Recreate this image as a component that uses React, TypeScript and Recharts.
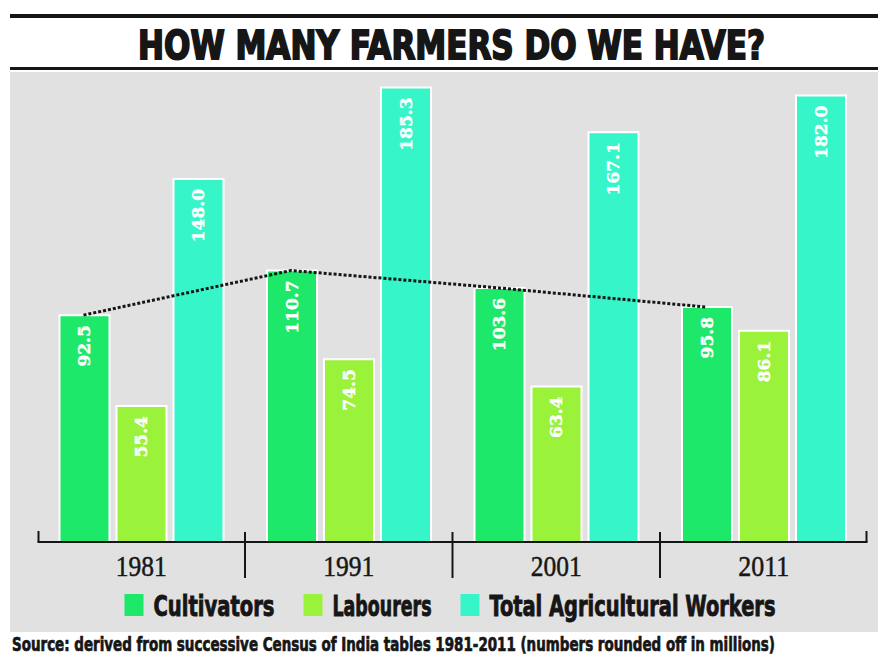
import React from "react";
import { ComposedChart, Bar, Line, XAxis, YAxis, Legend, LabelList } from "recharts";

const years = ["1981", "1991", "2001", "2011"];
const cultivators = [92.5, 110.7, 103.6, 95.8];
const labourers = [55.4, 74.5, 63.4, 86.1];
const totalWorkers = [148.0, 185.3, 167.1, 182.0];

const seriesKeys = ["cultivators", "labourers", "total"];
const seriesNames = ["Cultivators", "Labourers", "Total Agricultural Workers"];
const seriesColors = ["#1de86a", "#9bf23b", "#36f5c9"];

const data = years.map((year, i) => ({
  year,
  idx: i,
  cultivators: cultivators[i],
  labourers: labourers[i],
  total: totalWorkers[i],
}));

const W = 878;
const H = 659;
const MARGIN = { top: 76, right: 10.5, bottom: 30, left: 37.5 };
const LEGEND_H = 40;
const BAND = (W - MARGIN.left - MARGIN.right) / years.length;
const BAR = 50;
const GAP = 7;
// where the cultivators bar sits inside its category, so the dotted line hits its top
const groupOffset = Math.floor((BAND - (3 * BAR + 2 * GAP)) / 2);
const lineShift = (groupOffset + BAR / 2) / BAND;

const INK = "#161616";

const ValueLabel = (props: any) => {
  const x = Number(props.x);
  const y = Number(props.y);
  const w = Number(props.width);
  const cx = x + w / 2;
  const ty = y + 10;
  return (
    <text
      x={cx}
      y={ty}
      transform={`rotate(-90 ${cx} ${ty})`}
      textAnchor="end"
      dominantBaseline="central"
      fill="#ffffff"
      stroke="#ffffff"
      strokeWidth={0.4}
      fontFamily="'DejaVu Serif', serif"
      fontWeight="bold"
      fontSize={17}
    >
      {Number(props.value).toFixed(1)}
    </text>
  );
};

const YearTick = (props: any) => {
  const { x, y, payload } = props;
  const i = payload.index;
  const half = BAND / 2;
  return (
    <g>
      <text
        x={x}
        y={y + 34}
        textAnchor="middle"
        fill={INK}
        stroke={INK}
        strokeWidth={0.5}
        fontFamily="'Liberation Serif', serif"
        fontSize={29}
        textLength={51}
        lengthAdjust="spacingAndGlyphs"
      >
        {payload.value}
      </text>
      {i < years.length - 1 && (
        <line x1={x + half} x2={x + half} y1={y - 10} y2={y + 36} stroke={INK} strokeWidth={2} />
      )}
      {i === 0 && <line x1={x - half + 1} x2={x - half + 1} y1={y - 11} y2={y} stroke={INK} strokeWidth={2} />}
      {i === years.length - 1 && (
        <line x1={x + half - 1} x2={x + half - 1} y1={y - 11} y2={y} stroke={INK} strokeWidth={2} />
      )}
    </g>
  );
};

const LegendContent = () => {
  const charW = 11;
  const sq = 19;
  const sqGap = 10;
  const itemGap = 29;
  const widths = seriesNames.map((n) => sq + sqGap + n.length * charW);
  const total = widths.reduce((a, b) => a + b, 0) + itemGap * (seriesNames.length - 1);
  let x = 450 - total / 2;
  return (
    <svg width={W} height={LEGEND_H} style={{ display: "block" }}>
      {seriesNames.map((name, i) => {
        const x0 = x;
        x += widths[i] + itemGap;
        return (
          <g key={name}>
            <rect x={x0} y={5} width={sq} height={22} fill={seriesColors[i]} />
            <text
              x={x0 + sq + sqGap}
              y={27}
              fill={INK}
              stroke={INK}
              strokeWidth={0.9}
              fontFamily="'DejaVu Sans Condensed', 'DejaVu Sans', sans-serif"
              fontWeight="bold"
              fontSize={29}
              textLength={name.length * charW}
              lengthAdjust="spacingAndGlyphs"
            >
              {name}
            </text>
          </g>
        );
      })}
    </svg>
  );
};

export default function App() {
  return (
    <div
      style={{
        position: "absolute",
        left: 0,
        top: 0,
        width: W,
        height: H,
        background: "#ffffff",
        overflow: "hidden",
      }}
    >
      <svg style={{ position: "absolute", left: 0, top: 0 }} width={W} height={H}>
        <rect x={10} y={14} width={W - 10} height={4} fill={INK} />
        <rect x={10} y={67} width={W - 10} height={3} fill={INK} />
        <rect x={10} y={72} width={W - 10} height={560} fill="#e1e1e1" />
      </svg>

      <div style={{ position: "absolute", left: 0, top: 0 }}>
        <ComposedChart width={W} height={H} data={data} margin={MARGIN} barGap={GAP}>
          <XAxis
            xAxisId="cat"
            dataKey="year"
            height={47}
            tickSize={0}
            tickMargin={0}
            tickLine={false}
            axisLine={{ stroke: INK, strokeWidth: 2 }}
            tick={<YearTick />}
            interval={0}
          />
          <XAxis
            xAxisId="line"
            type="number"
            dataKey="idx"
            domain={[-lineShift, years.length - lineShift]}
            allowDataOverflow
            hide
          />
          <YAxis domain={[0, 190]} hide />
          <Legend
            verticalAlign="bottom"
            content={<LegendContent />}
            wrapperStyle={{ left: 0, width: W, height: LEGEND_H }}
          />
          {seriesKeys.map((key, i) => (
            <Bar
              key={key}
              xAxisId="cat"
              dataKey={key}
              name={seriesNames[i]}
              fill={seriesColors[i]}
              stroke="#ffffff"
              strokeWidth={2}
              barSize={BAR}
              isAnimationActive={false}
            >
              <LabelList dataKey={key} content={<ValueLabel />} />
            </Bar>
          ))}
          <Line
            xAxisId="line"
            dataKey="cultivators"
            stroke={INK}
            strokeWidth={3}
            strokeDasharray="3 2"
            dot={false}
            legendType="none"
            isAnimationActive={false}
          />
        </ComposedChart>
      </div>

      <svg style={{ position: "absolute", left: 0, top: 0 }} width={W} height={72}>
        <text
          x={0}
          y={0}
          transform="translate(138 59) scale(1 1.28)"
          fill={INK}
          stroke={INK}
          strokeWidth={1.6}
          fontFamily="'DejaVu Sans', sans-serif"
          fontWeight={900}
          fontSize={31}
          textLength={627}
          lengthAdjust="spacingAndGlyphs"
        >
          HOW MANY FARMERS DO WE HAVE?
        </text>
      </svg>

      <svg style={{ position: "absolute", left: 0, top: 632 }} width={W} height={27}>
        <text
          x={0}
          y={0}
          transform="translate(12 19) scale(1 1.4)"
          fill={INK}
          stroke={INK}
          strokeWidth={0.5}
          fontFamily="'DejaVu Sans Condensed', 'DejaVu Sans', sans-serif"
          fontWeight="bold"
          fontSize={14}
          textLength={763}
          lengthAdjust="spacingAndGlyphs"
        >
          Source: derived from successive Census of India tables 1981-2011 (numbers rounded off in millions)
        </text>
      </svg>
    </div>
  );
}
